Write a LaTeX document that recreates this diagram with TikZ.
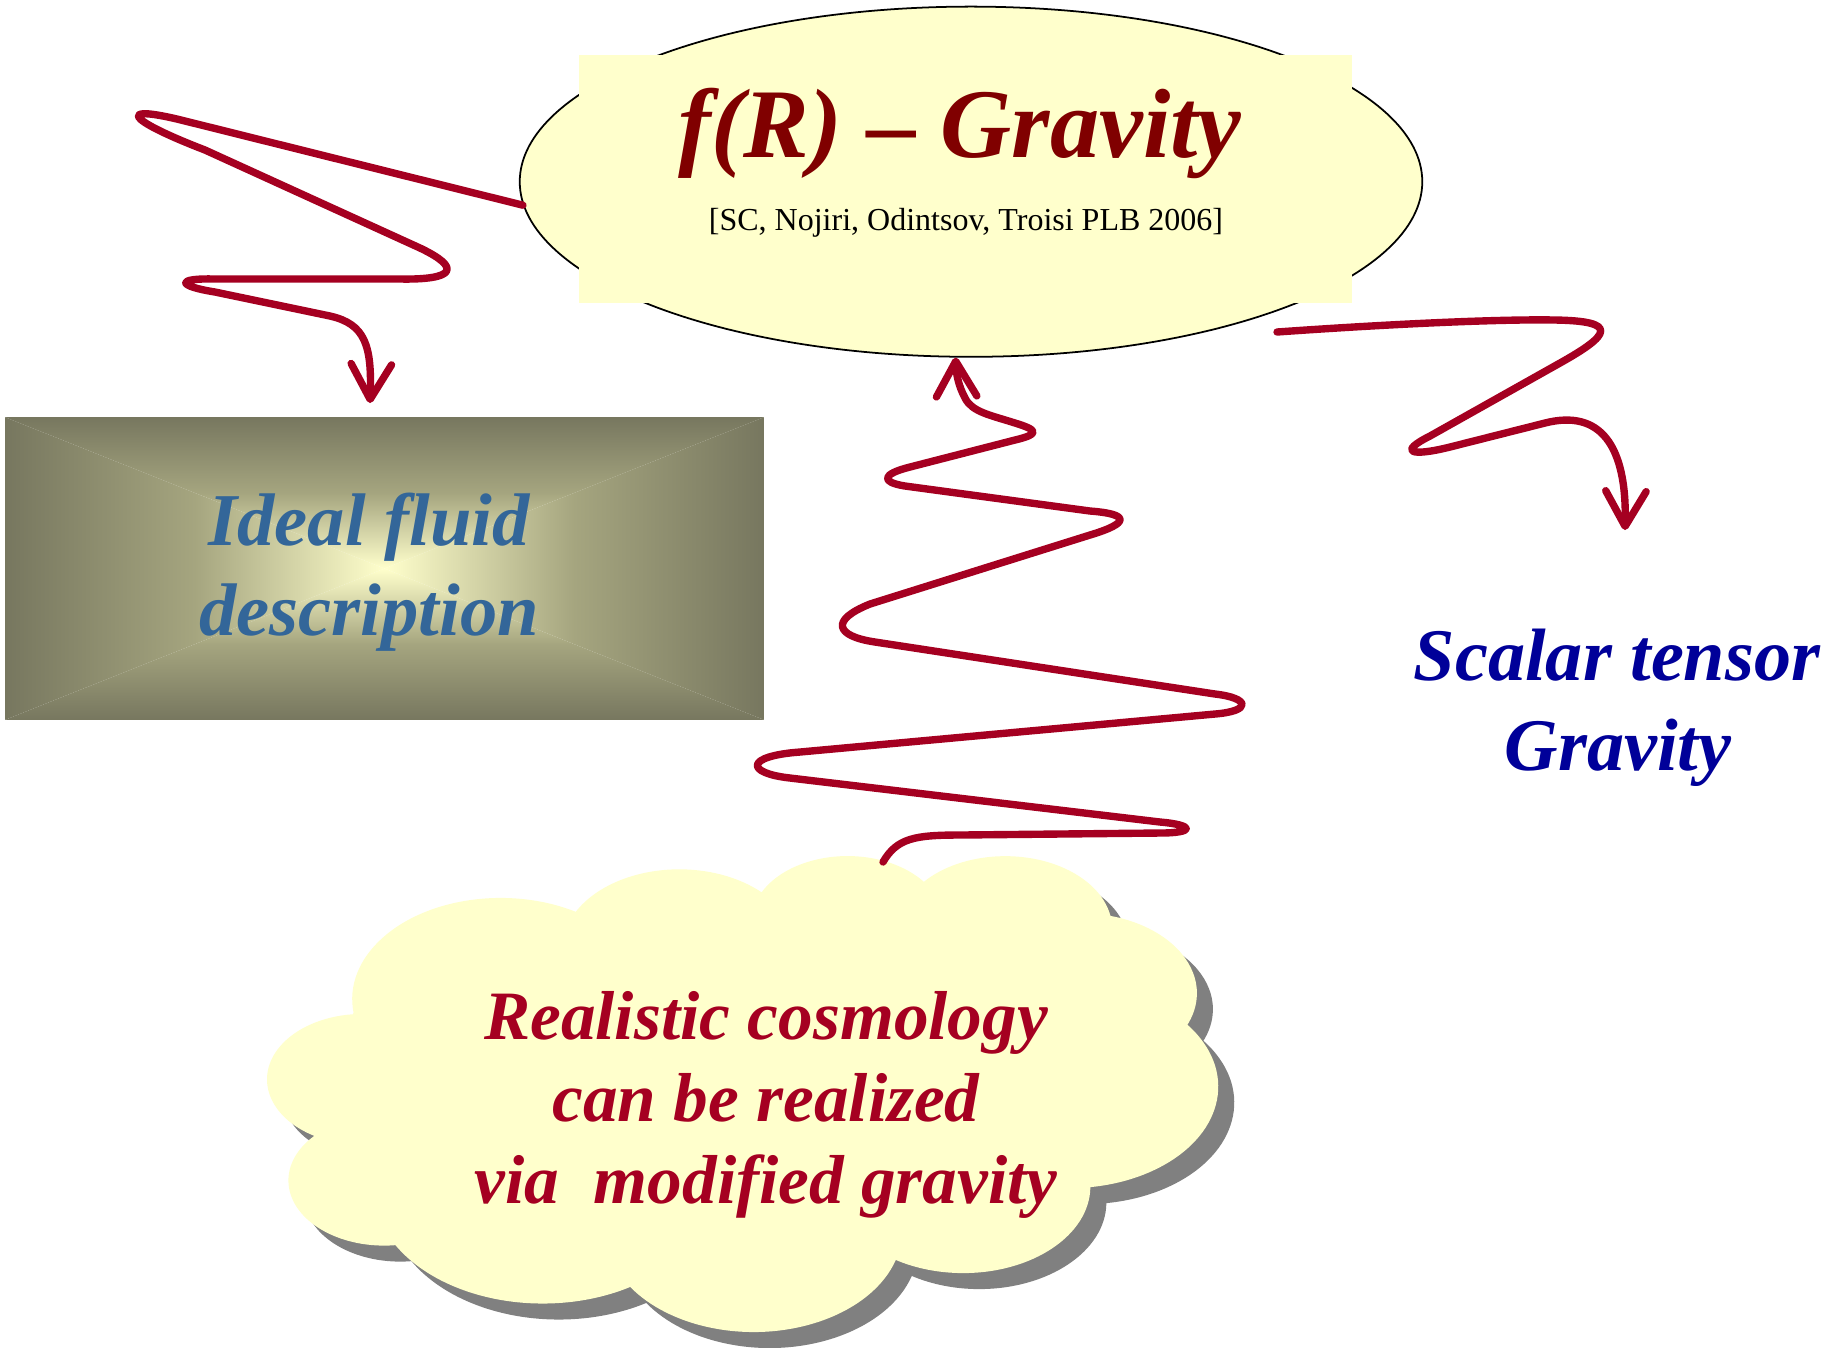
\documentclass[tikz,border=0pt]{standalone}
\usepackage{fontspec}
\setmainfont{Liberation Serif}[Ligatures=NoCommon]
\usetikzlibrary{arrows.meta,shapes.geometric}
\definecolor{fryellow}{HTML}{FFFFCC}
\definecolor{frdark}{HTML}{800000}
\definecolor{fluidblue}{HTML}{336699}
\definecolor{scalarblue}{HTML}{000099}
\definecolor{cloudred}{HTML}{A50021}
\definecolor{wavered}{HTML}{A50021}
\definecolor{fluiddark}{HTML}{77775F}
\definecolor{fluidmid}{HTML}{A5A57F}
\definecolor{shadowgray}{HTML}{808080}
\def\cloudoutline{(390,1437)
  arc[x radius=675.3, y radius=919.0, start angle=172.25, delta angle=128.11]
  arc[x radius=533.3, y radius=726.7, start angle=-152.03, delta angle=106.58]
  arc[x radius=436.5, y radius=594.5, start angle=-153.50, delta angle=116.17]
  arc[x radius=485.7, y radius=659.5, start angle=-139.72, delta angle=129.50]
  arc[x radius=533.3, y radius=727.3, start angle=-74.77, delta angle=97.98]
  arc[x radius=677.5, y radius=922.0, start angle=-37.53, delta angle=119.39]
  arc[x radius=578.5, y radius=786.7, start angle=0.46, delta angle=121.52]
  arc[x radius=675.2, y radius=921.5, start angle=16.84, delta angle=129.39]
  arc[x radius=772.0, y radius=1054.3, start angle=58.98, delta angle=91.21]
  arc[x radius=436.0, y radius=591.8, start angle=83.31, delta angle=139.80]
  arc[x radius=434.5, y radius=594.5, start angle=120.35, delta angle=143.76]
  -- cycle}
\tikzset{
  titletext/.style={font=\fontsize{28}{34}\selectfont\bfseries\itshape, text=frdark, inner sep=0, anchor=base},
  citetext/.style={font=\fontsize{9.1}{11}\selectfont, text=black, inner sep=0, anchor=base},
  fluidtext/.style={font=\fontsize{21.2}{25}\selectfont\bfseries\itshape, text=fluidblue, inner sep=0, anchor=base},
  scalartext/.style={font=\fontsize{21.1}{25}\selectfont\bfseries\itshape, text=scalarblue, inner sep=0, anchor=base},
  cloudtext/.style={font=\fontsize{19.7}{23}\selectfont\bfseries\itshape, text=cloudred, inner sep=0, anchor=base},
  wave/.style={draw=wavered, line width=2.1pt, line cap=round, line join=round,
    -{Straight Barb[length=10pt,width=11.5pt,round]}}
}
\begin{document}
\begin{tikzpicture}[x=0.01cm, y=-0.01cm]
\useasboundingbox (0,0) rectangle (1840,1347);
\fill[white] (0,0) rectangle (1840,1347);

% f(R) ellipse with square overlay
\node[ellipse, draw=black, line width=0.5pt, fill=fryellow, minimum width=9.02cm, minimum height=3.5cm, inner sep=0] (fr) at (971,181.7) {};
\node[rectangle, fill=fryellow, minimum width=7.72cm, minimum height=2.48cm, inner sep=0] (frbox) at (965.5,179) {};
\node[titletext] (frtitle) at (960,157) {f(R) – Gravity};
\node[citetext] (frcite) at (966,230) {[SC, Nojiri, Odintsov, Troisi PLB 2006]};

% Ideal fluid box
\node[rectangle, minimum width=7.57cm, minimum height=3.01cm, inner sep=0] (fluid) at (384.5,568.5) {};
\shade[top color=fluiddark, bottom color=fryellow, middle color=fluidmid] (fluid.north west) -- (fluid.north east) -- (fluid.center) -- cycle;
\shade[bottom color=fluiddark, top color=fryellow, middle color=fluidmid] (fluid.south west) -- (fluid.south east) -- (fluid.center) -- cycle;
\shade[left color=fluiddark, right color=fryellow, middle color=fluidmid] (fluid.north west) -- (fluid.south west) -- (fluid.center) -- cycle;
\shade[right color=fluiddark, left color=fryellow, middle color=fluidmid] (fluid.north east) -- (fluid.south east) -- (fluid.center) -- cycle;
\node[fluidtext] (fluid1) at (369,545) {Ideal fluid};
\node[fluidtext] (fluid2) at (369,635) {description};

% Scalar tensor gravity
\node[scalartext] (st1) at (1617,680) {Scalar tensor};
\node[scalartext] (st2) at (1618,770) {Gravity};

% Cloud with shadow
\begin{scope}[shift={(283.8,870.5)}, xscale=0.21991, yscale=0.110139]
  \fill[shadowgray] \cloudoutline;
\end{scope}
\begin{scope}[shift={(267.8,854.5)}, xscale=0.21991, yscale=0.110139]
  \fill[fryellow] \cloudoutline;
\end{scope}
\node[cloudtext] (cl1) at (766,1039) {Realistic cosmology};
\node[cloudtext] (cl2) at (766,1121) {can be realized};
\node[cloudtext] (cl3) at (766,1203) {via\ \ modified gravity};

% connector end points
\coordinate (a1end) at (370,403);
\coordinate (a2start) at (1277,332);
\coordinate (a2end) at (1625,530);
\coordinate (a3start) at (883,862);

% wavy arrows
\draw[wave] (fr.183) -- (185,121) .. controls (118,104) and (122,118) .. (205,150)
  -- (420,248) .. controls (462,268) and (455,280) .. (400,279)
  -- (215,279) .. controls (175,278) and (177,286) .. (215,292)
  -- (330,316) .. controls (365,324) and (372,345) .. (a1end);

\draw[wave] (a2start) .. controls (1390,324) and (1500,319) .. (1555,320)
  .. controls (1620,321) and (1610,335) .. (1560,363)
  -- (1430,436) .. controls (1398,452) and (1410,457) .. (1450,447)
  -- (1545,423) .. controls (1600,409) and (1627,445) .. (a2end);

\draw[wave] (a3start) .. controls (897,838) and (915,835) .. (960,835)
  -- (1160,833) .. controls (1195,833) and (1195,825) .. (1160,822)
  -- (790,778) .. controls (745,773) and (745,756) .. (800,752)
  -- (1215,714) .. controls (1252,711) and (1250,698) .. (1215,694)
  -- (875,642) .. controls (835,636) and (830,620) .. (870,604)
  -- (1090,535) .. controls (1130,523) and (1130,514) .. (1090,511)
  -- (905,486) .. controls (880,482) and (882,474) .. (910,467)
  -- (1015,440) .. controls (1040,434) and (1038,430) .. (1015,423)
  .. controls (990,415) and (972,412) .. (965,398)
  .. controls (958,385) and (956,372) .. (fr.265);
\end{tikzpicture}
\end{document}
